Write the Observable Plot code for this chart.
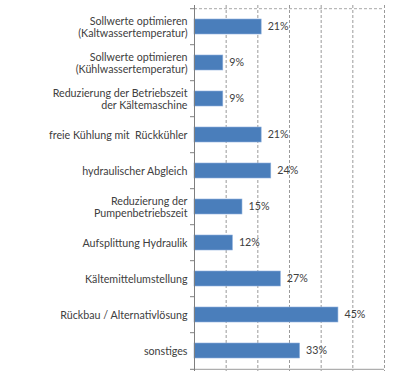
<!DOCTYPE html>
<html>
<head>
<meta charset="utf-8">
<script src="https://cdn.jsdelivr.net/npm/d3@7"></script>
<script src="https://cdn.jsdelivr.net/npm/@observablehq/plot@0.6"></script>
<style>
  html, body { margin: 0; padding: 0; background: #fff; }
  #chart svg { display: block; }
</style>
</head>
<body>
<div id="chart"></div>
<script>
const categories = [
  "Sollwerte optimieren\n(Kaltwassertemperatur)",
  "Sollwerte optimieren\n(Kühlwassertemperatur)",
  "Reduzierung der Betriebszeit\nder Kältemaschine",
  "freie Kühlung mit  Rückkühler",
  "hydraulischer Abgleich",
  "Reduzierung der\nPumpenbetriebszeit",
  "Aufsplittung Hydraulik",
  "Kältemittelumstellung",
  "Rückbau / Alternativlösung",
  "sonstiges"
];
const shares = [7/33, 3/33, 3/33, 7/33, 8/33, 5/33, 4/33, 9/33, 15/33, 11/33];
const gridTicks = [0.1, 0.2, 0.3, 0.4, 0.5];

const data = categories.map((c, i) => ({label: c, value: shares[i]}));

const W = 400, H = 381, mT = 5, mB = 10, mL = 194, mR = 16;
const step = (H - mT - mB) / categories.length;
const font = "Lato, 'Open Sans', sans-serif";
const textColor = "#404040";

const chart = Plot.plot({
  width: W,
  height: H,
  marginTop: mT,
  marginBottom: mB,
  marginLeft: mL,
  marginRight: mR,
  style: {fontFamily: font, fontSize: "10.7px", color: textColor, background: "#fff"},
  x: {domain: [0, 0.6], axis: null},
  y: {domain: categories, paddingInner: 0.59, paddingOuter: 0.295, axis: null},
  marks: [
    Plot.ruleX(gridTicks, {stroke: "#9a9a9a", strokeDasharray: "3,2", strokeWidth: 1}),
    Plot.ruleX([0.6], {stroke: "#9a9a9a", strokeDasharray: "3,2", strokeWidth: 1}),
    Plot.ruleY([categories[0]], {x1: 0, x2: 0.6, dy: -step / 2, stroke: "#a8a8a8", strokeDasharray: "3,2"}),
    Plot.barX(data, {y: "label", x: "value", fill: "#4a7ebb", stroke: "#8eb0dc", strokeWidth: 0.6}),
    Plot.text(data, {y: "label", x: "value", text: d => Math.round(d.value * 100) + "%", textAnchor: "start", dx: 6, fill: textColor}),
    Plot.text(data, {y: "label", x: d => 0, text: "label", textAnchor: "end", dx: -7, lineHeight: 1.16, fill: textColor}),
    Plot.ruleY(categories, {x1: 0, x2: 0, insetLeft: -4, dy: -step / 2, stroke: "#7f7f7f"}),
    Plot.ruleY([categories[categories.length - 1]], {x1: 0, x2: 0, insetLeft: -4, dy: step / 2, stroke: "#7f7f7f"}),
    Plot.ruleY([categories[categories.length - 1]], {x1: 0, x2: 0.6, dy: step / 2, stroke: "#9a9a9a"}),
    Plot.ruleX([0], {stroke: "#7f7f7f"})
  ]
});

document.getElementById("chart").appendChild(chart);
</script>
</body>
</html>
